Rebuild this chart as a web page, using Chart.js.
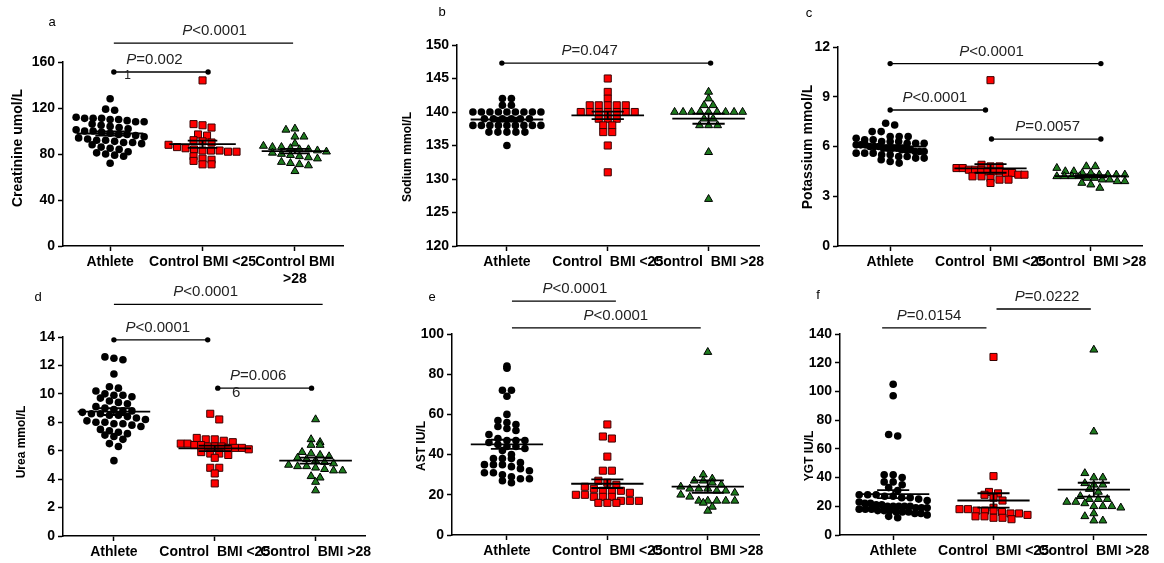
<!DOCTYPE html>
<html>
<head>
<meta charset="utf-8">
<script src="https://cdn.jsdelivr.net/npm/chart.js@4.4.1/dist/chart.umd.min.js"></script>
<style>
  body { margin: 0; background: #fff; width: 1164px; height: 563px; position: relative; overflow: hidden; }
  canvas { position: absolute; }
</style>
</head>
<body>
<canvas id="pa"></canvas>
<canvas id="pb"></canvas>
<canvas id="pc"></canvas>
<canvas id="pd"></canvas>
<canvas id="pe"></canvas>
<canvas id="pf"></canvas>
<script>
var groups = ["Athlete", "Control  BMI <25", "Control  BMI >28"];
var groupsA = ["Athlete", "Control BMI <25", ["Control BMI", ">28"]];

// a - creatinine
var creAthlete = [128, 119, 118, 112, 111, 111, 111, 110, 110, 109, 108, 108, 106, 105, 104, 103, 102, 101, 100, 100, 99, 98, 97, 97, 96, 95, 94, 93, 92, 92, 91, 90, 90, 89, 88, 86, 85, 84, 82, 81, 80, 79, 78, 72];
var creCtrl25 = [144, 106, 105, 103, 97, 96, 92, 91, 90, 88, 86, 85, 84, 83, 83, 83, 82, 82, 78, 76, 75, 74, 71, 71];
var creCtrl28 = [102, 101, 95, 95, 89, 87, 86, 86, 85, 84, 84, 83, 82, 81, 80, 79, 78, 77, 76, 73, 72, 71, 70, 65];

// b - sodium
var naAthlete = [142, 142, 141, 141, 140, 140, 140, 140, 140, 140, 140, 140, 140, 139, 139, 139, 139, 139, 139, 138, 138, 138, 138, 138, 138, 138, 138, 138, 137, 137, 137, 137, 137, 135];
var naCtrl25 = [145, 143, 142, 141, 141, 141, 141, 141, 140, 140, 140, 140, 140, 140, 140, 139, 139, 139, 138, 138, 137, 137, 135, 131];
var naCtrl28 = [143, 142, 141, 141, 140, 140, 140, 140, 140, 140, 140, 140, 140, 139, 139, 138, 138, 138, 134, 127];

// c - potassium
var kAthlete = [7.4, 7.3, 6.9, 6.9, 6.6, 6.6, 6.6, 6.5, 6.4, 6.4, 6.3, 6.3, 6.3, 6.2, 6.2, 6.2, 6.1, 6.1, 6.1, 6.0, 6.0, 6.0, 5.9, 5.9, 5.9, 5.9, 5.8, 5.8, 5.8, 5.7, 5.7, 5.7, 5.6, 5.6, 5.6, 5.5, 5.5, 5.4, 5.4, 5.3, 5.3, 5.2, 5.1, 5.0];
var kCtrl25 = [10.0, 4.9, 4.8, 4.8, 4.7, 4.7, 4.6, 4.6, 4.6, 4.5, 4.5, 4.5, 4.4, 4.4, 4.3, 4.3, 4.2, 4.2, 4.1, 4.0, 4.0, 3.8];
var kCtrl28 = [4.8, 4.8, 4.7, 4.5, 4.5, 4.4, 4.4, 4.3, 4.3, 4.3, 4.3, 4.2, 4.2, 4.2, 4.2, 4.1, 4.1, 4.0, 4.0, 3.9, 3.9, 3.8, 3.7, 3.5];

// d - urea
var ureaAthlete = [12.6, 12.5, 12.4, 11.4, 10.5, 10.4, 10.2, 10.0, 9.9, 9.9, 9.8, 9.7, 9.5, 9.4, 9.3, 9.1, 9.0, 8.9, 8.8, 8.8, 8.7, 8.6, 8.6, 8.5, 8.5, 8.4, 8.3, 8.2, 8.1, 8.0, 8.0, 7.9, 7.9, 7.8, 7.7, 7.5, 7.4, 7.3, 7.2, 7.1, 7.0, 6.8, 6.5, 6.3, 5.3];
var ureaCtrl25 = [8.6, 8.2, 6.9, 6.8, 6.8, 6.7, 6.6, 6.5, 6.5, 6.4, 6.4, 6.3, 6.3, 6.3, 6.2, 6.2, 6.2, 6.1, 5.9, 5.8, 5.8, 5.7, 5.5, 4.8, 4.8, 4.4, 3.7];
var ureaCtrl28 = [8.2, 6.8, 6.6, 6.4, 6.4, 5.9, 5.8, 5.7, 5.6, 5.5, 5.4, 5.3, 5.2, 5.1, 5.0, 4.9, 4.9, 4.8, 4.7, 4.6, 4.6, 4.2, 4.1, 3.8, 3.2];

// e - AST
var astAthlete = [84, 83, 72, 72, 69, 60, 57, 56, 55, 54, 53, 52, 50, 48, 47, 47, 47, 46, 45, 44, 44, 43, 42, 40, 38, 38, 38, 36, 35, 35, 35, 34, 33, 32, 31, 31, 30, 29, 28, 28, 27, 26];
var astCtrl25 = [55, 49, 48, 39, 32, 32, 27, 26, 25, 24, 23, 22, 22, 22, 21, 20, 20, 19, 19, 19, 17, 17, 17, 16, 16, 16];
var astCtrl28 = [91, 30, 28, 27, 27, 26, 25, 24, 23, 23, 23, 22, 22, 21, 20, 19, 17, 17, 17, 17, 17, 16, 14, 12];

// f - YGT
var ygtAthlete = [105, 97, 70, 69, 42, 42, 40, 37, 37, 35, 33, 31, 28, 28, 28, 27, 27, 26, 26, 25, 24, 23, 22, 22, 21, 21, 20, 20, 20, 20, 20, 19, 19, 19, 18, 18, 18, 17, 17, 17, 16, 16, 16, 15, 15, 14, 13, 12];
var ygtCtrl25 = [124, 41, 30, 29, 28, 26, 24, 19, 18, 18, 17, 17, 17, 16, 15, 15, 14, 13, 13, 12, 12, 11];
var ygtCtrl28 = [129, 72, 43, 40, 40, 36, 35, 35, 32, 30, 27, 25, 25, 25, 23, 23, 22, 20, 20, 20, 19, 15, 13, 10, 10];

var FONT = "'Liberation Sans', Arial, sans-serif";

var panels = [
  { id: "pa", letter: "a", box: [0, 0, 390, 290], area: [63, 62, 343, 246], xr: [0.49, 3.52], yr: [0, 160], step: 40,
    title: "Creatinine umol/L", titleSize: 14, titlePos: [18, 148], letterPos: [52, 22], labels: groupsA,
    series: [creAthlete, creCtrl25, creCtrl28],
    bars: [{ x1: 1.04, x2: 2.98, y: 176.5, t: "<0.0001", cx: 2.13 }, { x1: 1.04, x2: 2.06, y: 151.3, t: "=0.002", cx: 1.48 }],
    notes: [{ t: "1", x: 1.19, y: 148 }] },
  { id: "pb", letter: "b", box: [390, 0, 385, 290], area: [457, 45, 759, 246], xr: [0.505, 3.5], yr: [120, 150], step: 5,
    title: "Sodium mmol/L", titleSize: 12, titlePos: [408, 157], letterPos: [442, 12], labels: groups,
    series: [naAthlete, naCtrl25, naCtrl28],
    bars: [{ x1: 0.95, x2: 3.02, y: 147.3, t: "=0.047", cx: 1.82 }], notes: [] },
  { id: "pc", letter: "c", box: [775, 0, 389, 290], area: [838, 47, 1142, 246], xr: [0.48, 3.51], yr: [0, 12], step: 3,
    title: "Potassium mmol/L", titleSize: 14, titlePos: [808, 147], letterPos: [809, 13], labels: groups,
    series: [kAthlete, kCtrl25, kCtrl28],
    bars: [{ x1: 1.0, x2: 3.1, y: 11.0, t: "<0.0001", cx: 2.01 }, { x1: 1.0, x2: 1.95, y: 8.2, t: "<0.0001", cx: 1.445 },
           { x1: 2.01, x2: 3.1, y: 6.45, t: "=0.0057", cx: 2.57 }], notes: [] },
  { id: "pd", letter: "d", box: [0, 280, 390, 283], area: [63, 337, 365, 536], xr: [0.495, 3.49], yr: [0, 14], step: 2,
    title: "Urea mmol/L", titleSize: 12, titlePos: [22, 442], letterPos: [38, 297], labels: groups,
    series: [ureaAthlete, ureaCtrl25, ureaCtrl28],
    bars: [{ x1: 1.0, x2: 3.07, y: 16.3, t: "<0.0001", cx: 1.91 }, { x1: 1.0, x2: 1.93, y: 13.8, t: "<0.0001", cx: 1.435 },
           { x1: 2.03, x2: 2.96, y: 10.4, t: "=0.006", cx: 2.43, t2: "6" }], notes: [] },
  { id: "pe", letter: "e", box: [390, 280, 385, 283], area: [452, 334, 759, 535], xr: [0.453, 3.51], yr: [0, 100], step: 20,
    title: "AST IU/L", titleSize: 12, titlePos: [422, 446], letterPos: [432, 297], labels: groups,
    series: [astAthlete, astCtrl25, astCtrl28],
    bars: [{ x1: 1.05, x2: 2.085, y: 116.4, t: "<0.0001", cx: 1.677 }, { x1: 1.05, x2: 2.93, y: 103, t: "<0.0001", cx: 2.085 }], notes: [] },
  { id: "pf", letter: "f", box: [775, 280, 389, 283], area: [840, 334, 1146, 535], xr: [0.47, 3.52], yr: [0, 140], step: 20,
    title: "YGT IU/L", titleSize: 12, titlePos: [810, 456], letterPos: [818, 295], labels: groups,
    series: [ygtAthlete, ygtCtrl25, ygtCtrl28],
    bars: [{ x1: 0.89, x2: 1.93, y: 144.2, t: "=0.0154", cx: 1.357 }, { x1: 2.03, x2: 2.97, y: 157.4, t: "=0.0222", cx: 2.534 }], notes: [] }
];

var marks = [
  { pointStyle: "circle", radius: 3.8, bg: "#000", border: "#000", bw: 0 },
  { pointStyle: "rect", radius: 5, bg: "#ff0000", border: "#3a0000", bw: 1 },
  { pointStyle: "triangle", radius: 4.6, bg: "#1e7a1e", border: "#000", bw: 1 }
];

function mean(a) {
  var s = 0;
  a.forEach(function (v) { s += v; });
  return s / a.length;
}
function sem(a) {
  var m = mean(a), s = 0;
  a.forEach(function (v) { s += (v - m) * (v - m); });
  return Math.sqrt(s / (a.length - 1)) / Math.sqrt(a.length);
}

// prism-like scatter: points binned into rows, each row centred on the column
function spread(vals, pxY, rowH, step, maxHalf) {
  var rows = {}, offs = [];
  vals.forEach(function (v, k) {
    var r = Math.round(v * pxY / rowH);
    (rows[r] = rows[r] || []).push(k);
  });
  Object.keys(rows).forEach(function (r) {
    var idx = rows[r], n = idx.length;
    var sp = n > 1 ? Math.min(step, 2 * maxHalf / (n - 1)) : 0;
    idx.forEach(function (k, j) { offs[k] = (j - (n - 1) / 2) * sp; });
  });
  return offs;
}

function drawP(ctx, rest, cx, by) {
  ctx.font = "italic 15px " + FONT;
  var w1 = ctx.measureText("P").width;
  ctx.font = "15px " + FONT;
  var w2 = ctx.measureText(rest).width;
  var x0 = cx - (w1 + w2) / 2;
  ctx.textAlign = "left";
  ctx.textBaseline = "alphabetic";
  ctx.fillStyle = "#222";
  ctx.font = "italic 15px " + FONT;
  ctx.fillText("P", x0, by);
  ctx.font = "15px " + FONT;
  ctx.fillText(rest, x0 + w1, by);
  return x0;
}

function makeChart(p) {
  var cv = document.getElementById(p.id);
  var bx = p.box[0], by = p.box[1], bw = p.box[2], bh = p.box[3];
  cv.width = bw; cv.height = bh;
  cv.style.left = bx + "px"; cv.style.top = by + "px";
  cv.style.width = bw + "px"; cv.style.height = bh + "px";

  var L = p.area[0], T = p.area[1], R = p.area[2], B = p.area[3];
  var pxX = (R - L) / (p.xr[1] - p.xr[0]);
  var pxY = (B - T) / (p.yr[1] - p.yr[0]);

  var datasets = [];
  p.series.forEach(function (vals, i) {
    var offs = spread(vals, pxY, 7.5, 9, 34);
    var m = marks[i];
    datasets.push({
      data: vals.map(function (v, k) { return { x: i + 1 + offs[k] / pxX, y: v }; }),
      pointStyle: m.pointStyle, pointRadius: m.radius, pointHoverRadius: m.radius,
      backgroundColor: m.bg, borderColor: m.border, borderWidth: m.bw,
      showLine: false, clip: false
    });
  });
  p.bars.forEach(function (b) {
    datasets.push({
      data: [{ x: b.x1, y: b.y }, { x: b.x2, y: b.y }],
      showLine: true, borderColor: "#000", borderWidth: 1.3,
      pointRadius: 2.7, pointBackgroundColor: "#000", pointBorderWidth: 0,
      clip: false
    });
  });

  var extras = {
    id: "extras" + p.id,
    afterDatasetsDraw: function (chart) {
      var ctx = chart.ctx, xs = chart.scales.x, ys = chart.scales.y;
      ctx.save();
      // mean +/- SEM
      ctx.strokeStyle = "#000";
      ctx.lineWidth = 1.8;
      p.series.forEach(function (vals, i) {
        var c = i + 1, m = mean(vals), s = sem(vals);
        var ym = ys.getPixelForValue(m), yt = ys.getPixelForValue(m + s), yb = ys.getPixelForValue(m - s);
        ctx.beginPath();
        ctx.moveTo(xs.getPixelForValue(c - 0.36), ym); ctx.lineTo(xs.getPixelForValue(c + 0.36), ym);
        ctx.moveTo(xs.getPixelForValue(c - 0.16), yt); ctx.lineTo(xs.getPixelForValue(c + 0.16), yt);
        ctx.moveTo(xs.getPixelForValue(c - 0.16), yb); ctx.lineTo(xs.getPixelForValue(c + 0.16), yb);
        ctx.moveTo(xs.getPixelForValue(c), yt); ctx.lineTo(xs.getPixelForValue(c), yb);
        ctx.stroke();
      });
      // p value labels
      p.bars.forEach(function (b) {
        var yb = ys.getPixelForValue(b.y);
        var x0 = drawP(ctx, b.t, xs.getPixelForValue(b.cx), yb - 8);
        if (b.t2) {
          ctx.font = "15px " + FONT;
          ctx.fillText(b.t2, x0 + 2, yb + 9);
        }
      });
      p.notes.forEach(function (n) {
        ctx.font = "12px " + FONT;
        ctx.fillStyle = "#222";
        ctx.textAlign = "center";
        ctx.textBaseline = "middle";
        ctx.fillText(n.t, xs.getPixelForValue(n.x), ys.getPixelForValue(n.y));
      });
      // panel letter
      ctx.font = "13px " + FONT;
      ctx.fillStyle = "#000";
      ctx.textAlign = "center";
      ctx.textBaseline = "middle";
      ctx.fillText(p.letter, p.letterPos[0] - bx, p.letterPos[1] - by);
      // y title
      ctx.translate(p.titlePos[0] - bx, p.titlePos[1] - by);
      ctx.rotate(-Math.PI / 2);
      ctx.font = "bold " + p.titleSize + "px " + FONT;
      ctx.fillText(p.title, 0, 0);
      ctx.restore();
    }
  };

  new Chart(cv, {
    type: "scatter",
    data: { datasets: datasets },
    options: {
      responsive: false,
      animation: false,
      devicePixelRatio: 1,
      layout: { padding: { left: 0, top: T - by, right: bx + bw - R, bottom: 0 } },
      plugins: { legend: { display: false }, tooltip: { enabled: false } },
      scales: {
        x: {
          type: "linear", min: p.xr[0], max: p.xr[1],
          afterBuildTicks: function (s) { s.ticks = [{ value: 1 }, { value: 2 }, { value: 3 }]; },
          afterFit: function (s) { s.height = by + bh - B; },
          grid: { drawOnChartArea: false, tickLength: 5, tickColor: "#000", tickWidth: 1.5 },
          border: { color: "#000", width: 1.5 },
          ticks: {
            autoSkip: false, maxRotation: 0, minRotation: 0, padding: 3, color: "#000",
            font: { family: FONT, size: 14, weight: "bold" },
            callback: function (v) { return p.labels[v - 1]; }
          }
        },
        y: {
          min: p.yr[0], max: p.yr[1],
          afterFit: function (s) { s.width = L - bx; },
          grid: { drawOnChartArea: false, tickLength: 5, tickColor: "#000", tickWidth: 1.5 },
          border: { color: "#000", width: 1.5 },
          ticks: { stepSize: p.step, padding: 3, color: "#000", font: { family: FONT, size: 14, weight: "bold" } }
        }
      }
    },
    plugins: [extras]
  });
}

panels.forEach(makeChart);
</script>
</body>
</html>
